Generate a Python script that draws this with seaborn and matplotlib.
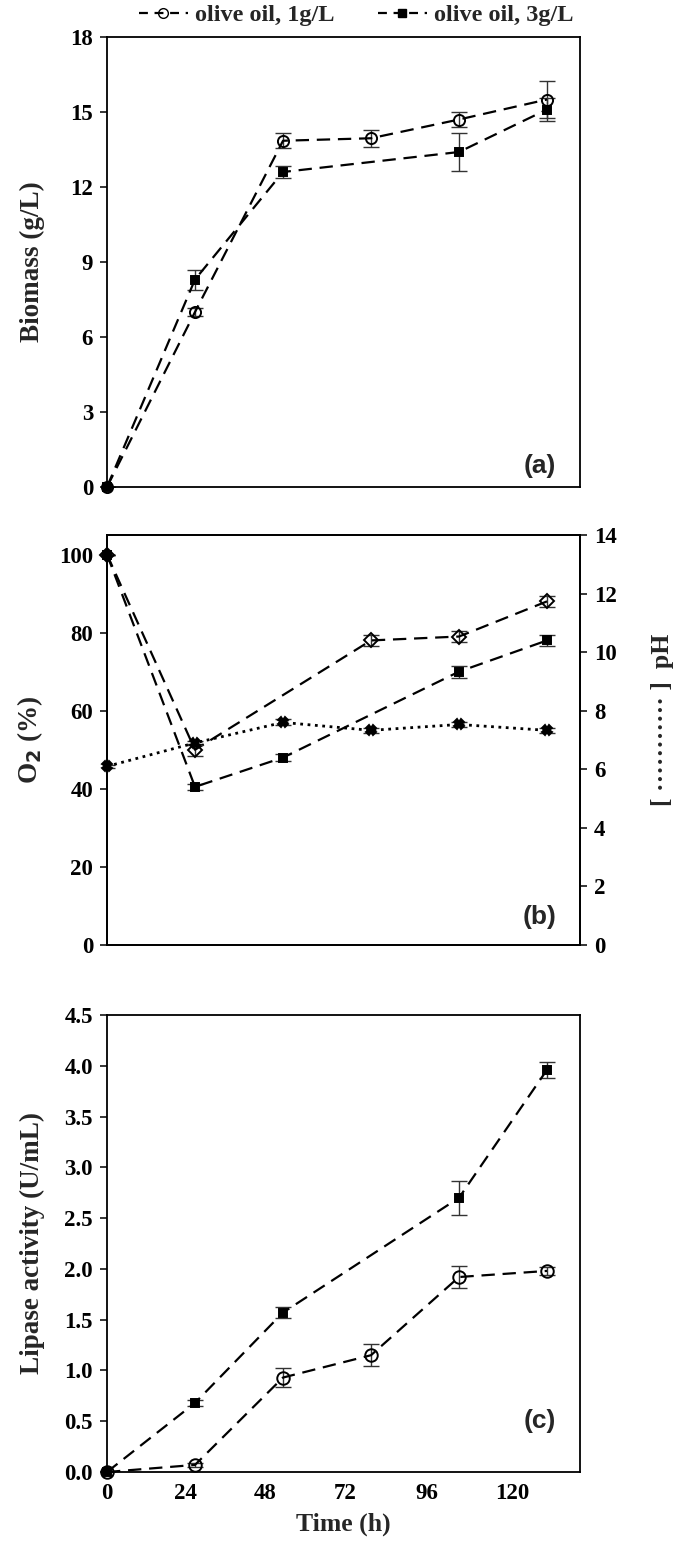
import numpy as np
import pandas as pd
import matplotlib
matplotlib.use("Agg")
import matplotlib.pyplot as plt
from matplotlib.lines import Line2D
import seaborn as sns

# ---------------- data ----------------
time_h = [0, 24, 48, 72, 96, 120]
time_labels = ["0", "24", "48", "72", "96", "120"]

# (a) biomass (g/L)
bio_1 = [0.0, 7.0, 13.85, 13.95, 14.7, 15.5]
bio_1_err = [0.0, 0.15, 0.3, 0.35, 0.3, 0.75]
bio_3 = [0.0, 8.3, 12.6, np.nan, 13.4, 15.1]
bio_3_err = [0.0, 0.4, 0.25, np.nan, 0.75, 0.45]

# (b) dissolved O2 (%) and pH
o2_1 = [100, 50, np.nan, 78, 79, 88]
o2_1_err = [0, 1.5, np.nan, 1.5, 1.5, 1.5]
o2_3 = [100, 40.5, 48, np.nan, 70, 78]
o2_3_err = [0, 0.8, 0.8, np.nan, 1.5, 1.5]
ph = [6.1, 6.9, 7.6, 7.33, 7.53, 7.33]
ph_err = [0.05, 0.08, 0.1, 0.08, 0.1, 0.08]

# (c) lipase activity (U/mL)
lip_1 = [0.0, 0.07, 0.93, 1.15, 1.92, 1.98]
lip_1_err = [0.0, 0.02, 0.09, 0.11, 0.11, 0.04]
lip_3 = [0.0, 0.68, 1.57, np.nan, 2.70, 3.96]
lip_3_err = [0.0, 0.03, 0.05, np.nan, 0.17, 0.08]

legend_labels = ["olive oil, 1g/L", "olive oil, 3g/L"]

# ---------------- style ----------------
sns.set_theme(style="ticks")
plt.rcParams["font.family"] = ["Liberation Serif", "DejaVu Serif"]
plt.rcParams["font.weight"] = "bold"
plt.rcParams["axes.linewidth"] = 1.3
plt.rcParams["axes.edgecolor"] = "black"
plt.rcParams["xtick.color"] = "black"
plt.rcParams["ytick.color"] = "black"

TICK_FS = 16.5
LAB_FS = 19.5
DASH = (6, 3.5)

fig = plt.figure(figsize=(6.85, 15.44), dpi=100)
L, W = 107 / 685, 473 / 685
ax_a = fig.add_axes([L, 1 - 487 / 1544, W, 450 / 1544])
ax_b = fig.add_axes([L, 1 - 945 / 1544, W, 410 / 1544])
ax_c = fig.add_axes([L, 1 - 1472 / 1544, W, 457 / 1544])

# x label positions as they appear in the original (slightly compressed)
XLAB_POS = [0, 21.5, 43.2, 65.0, 87.3, 110.5]


def series(ax, y, err, marker, filled, ms, ls="dashed", dashes=DASH, lw=1.6, zorder=3):
    df = pd.DataFrame({"t": time_h, "y": y, "e": err}).dropna()
    line_kw = dict(color="black", linewidth=lw)
    if ls == "dashed":
        line_kw["dashes"] = dashes
    else:
        line_kw["linestyle"] = ls
    sns.lineplot(data=df, x="t", y="y", ax=ax, marker=marker, markersize=ms,
                 markerfacecolor="black" if filled else "none",
                 markeredgecolor="black", markeredgewidth=1.4,
                 zorder=zorder, clip_on=False, **line_kw)
    ax.errorbar(df["t"], df["y"], yerr=df["e"], fmt="none", ecolor="#333333",
                elinewidth=1.0, capsize=6, capthick=1.0, zorder=2)


def style_axis(ax, ylim, yticks, fmt):
    ax.set_xlim(0, 129)
    ax.set_xticks(XLAB_POS)
    ax.set_ylim(*ylim)
    ax.set_yticks(yticks)
    ax.set_yticklabels([fmt.format(v) for v in yticks], fontsize=TICK_FS, fontweight="bold")
    ax.tick_params(axis="y", direction="out", length=5, width=1.1, pad=5)
    ax.tick_params(axis="x", length=0, pad=8)
    ax.set_xlabel("")
    for s in ax.spines.values():
        s.set_visible(True)
        s.set_color("black")


# ---- (a) ----
series(ax_a, bio_1, bio_1_err, "o", False, 8)
series(ax_a, bio_3, bio_3_err, "s", True, 6)
style_axis(ax_a, (0, 18), [0, 3, 6, 9, 12, 15, 18], "{:g}")
ax_a.set_xticklabels([])
ax_a.set_ylabel("Biomass (g/L)", fontsize=LAB_FS, fontweight="bold", labelpad=18)
ax_a.text(0.95, 0.02, "(a)", transform=ax_a.transAxes, ha="right", va="bottom",
          fontsize=19, fontweight="bold", family="Liberation Sans")

# ---- (b) ----
series(ax_b, o2_1, o2_1_err, "D", False, 7)
series(ax_b, o2_3, o2_3_err, "s", True, 6)
style_axis(ax_b, (0, 105), [0, 20, 40, 60, 80, 100], "{:g}")
ax_b.set_xticklabels([])
ax_b.set_ylabel(r"O$_\mathbf{2}$ (%)", fontsize=LAB_FS, fontweight="bold", labelpad=10)
ax_b.text(0.95, 0.04, "(b)", transform=ax_b.transAxes, ha="right", va="bottom",
          fontsize=19, fontweight="bold", family="Liberation Sans")

ax_b2 = ax_b.twinx()
series(ax_b2, ph, ph_err, "X", True, 7, ls=":", lw=2.0)
ax_b2.set_ylim(0, 14)
ax_b2.set_yticks(range(0, 15, 2))
ax_b2.set_yticklabels([str(v) for v in range(0, 15, 2)], fontsize=TICK_FS, fontweight="bold")
ax_b2.tick_params(axis="y", direction="out", length=5, width=1.1, pad=5)
ax_b2.set_ylabel("")
ax_b2.text(1.175, 0.55, "[ ··········· ]  pH", transform=ax_b2.transAxes, rotation=90,
           ha="center", va="center", fontsize=LAB_FS - 1, fontweight="bold")

# ---- (c) ----
series(ax_c, lip_1, lip_1_err, "o", False, 9)
series(ax_c, lip_3, lip_3_err, "s", True, 6)
style_axis(ax_c, (0, 4.5), [0, 0.5, 1.0, 1.5, 2.0, 2.5, 3.0, 3.5, 4.0, 4.5], "{:.1f}")
ax_c.set_xticklabels(time_labels, fontsize=TICK_FS, fontweight="bold")
ax_c.set_ylabel("Lipase activity (U/mL)", fontsize=LAB_FS, fontweight="bold", labelpad=14)
ax_c.set_xlabel("Time (h)", fontsize=LAB_FS - 1, fontweight="bold", labelpad=6)
ax_c.text(0.95, 0.085, "(c)", transform=ax_c.transAxes, ha="right", va="bottom",
          fontsize=19, fontweight="bold", family="Liberation Sans")

# ---- legend ----
h1 = Line2D([], [], color="black", dashes=(4, 3), lw=1.6, marker="o", ms=7,
            markerfacecolor="none", markeredgecolor="black")
h2 = Line2D([], [], color="black", dashes=(4, 3), lw=1.6, marker="s", ms=6,
            markerfacecolor="black", markeredgecolor="black")
fig.legend([h1, h2], legend_labels, loc="center", bbox_to_anchor=(0.52, 1 - 15 / 1544),
           ncol=2, frameon=False, prop={"family": "Liberation Serif", "weight": "bold", "size": 17.5},
           handlelength=2.0, columnspacing=1.8, handletextpad=0.3)

fig.savefig("out.png", dpi=100)
